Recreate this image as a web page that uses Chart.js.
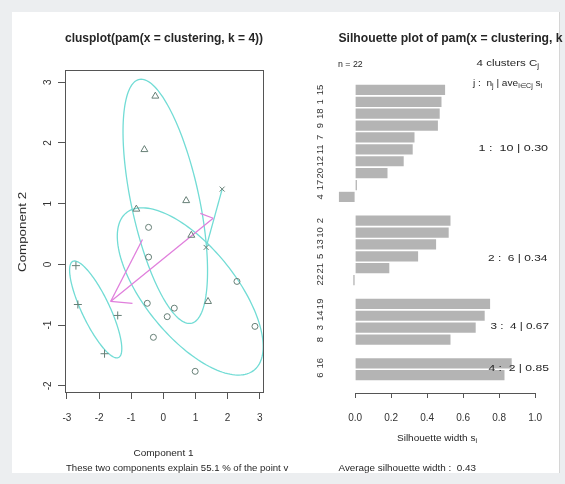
<!DOCTYPE html>
<html lang="en">
<head>
<meta charset="UTF-8">
<title>clusplot and silhouette of pam(x = clustering, k = 4)</title>
<script src="https://cdn.jsdelivr.net/npm/chart.js"></script>
<style>
  body {
    margin: 0;
    width: 565px;
    height: 484px;
    background: #eceef0;
    font-family: "Liberation Sans", Arial, sans-serif;
    position: relative;
    overflow: hidden;
  }
  #panel {
    position: absolute;
    left: 12px; top: 12px;
    width: 547px; height: 461px;
    background: #fff;
    border-right: 1px solid #d6d6d6;
  }
  .box { position: absolute; top: 0; height: 484px; }
  #leftBox { left: 0; width: 290px; }
  #rightBox { left: 290px; width: 275px; }
  .txt { position: absolute; white-space: nowrap; color: #262626; line-height: 1.1; }
  .txt sub { font-size: 70%; vertical-align: -2px; }
</style>
</head>
<body>
<div id="panel"></div>
<div class="box" id="leftBox"><canvas id="clusPlot"></canvas></div>
<div class="box" id="rightBox"><canvas id="silPlot"></canvas></div>

<script>
// ---- clusplot data (component 1 / component 2 scores per cluster) ----
const c1X = [-0.46, -0.46, -0.50, 2.29, 0.34, 0.12, 2.85, -0.31, 0.99];
const c1Y = [0.61, 0.12, -0.64, -0.28, -0.72, -0.86, -1.02, -1.20, -1.76];
const c2X = [-0.25, -0.59, -0.84, 0.71, 0.87, 1.39];
const c2Y = [2.77, 1.89, 0.91, 1.05, 0.48, -0.61];
const c3X = [-2.72, -2.66, -1.83, -1.42];
const c3Y = [-0.02, -0.66, -1.47, -0.84];
const c4X = [1.83, 1.33];
const c4Y = [1.24, 0.28];

// covering ellipses: centre x, centre y, then two conjugate half-axes (data units)
const clusterEllipses = [
  [0.836, -0.445, 2.01, -1.285, 1.053, 0.494],
  [0.06, 1.038, -0.75, 2.01, 1.08, 0],
  [-2.105, -0.741, 0.712, -0.791, 0.39, 0.10],
  [1.58, 0.76, 0.25, 0.48, 0, 0]
];
// distance segments between clusters [x1, y1, x2, y2]
const clusterLines = [
  [-1.64, -0.61, 1.55, 0.76],
  [-1.64, -0.61, -0.65, 0.41],
  [-1.64, -0.61, -0.96, -0.64],
  [1.15, 0.84, 1.55, 0.76]
];
const compXTicks = [-3, -2, -1, 0, 1, 2, 3];
const compYTicks = [-2, -1, 0, 1, 2, 3];

// ---- silhouette data ----
const sil1Ids = ['15', '1', '18', '9', '7', '11', '12', '20', '17', '4'];
const sil1Width = [0.50, 0.48, 0.47, 0.46, 0.33, 0.32, 0.27, 0.18, 0.01, -0.09];
const sil2Ids = ['2', '10', '13', '5', '21', '22'];
const sil2Width = [0.53, 0.52, 0.45, 0.35, 0.19, -0.01];
const sil3Ids = ['19', '14', '3', '8'];
const sil3Width = [0.75, 0.72, 0.67, 0.53];
const sil4Ids = ['16', '6'];
const sil4Width = [0.87, 0.83];
const silTicks = [0, 0.2, 0.4, 0.6, 0.8, 1.0];

const FONT = '"Liberation Sans", Arial, sans-serif';
const pointColor = '#667f76';
const ellipseColor = '#72dcd5';
const lineColor = '#e07fdc';

function toPts(xs, ys) { return xs.map((v, i) => ({ x: v, y: ys[i] })); }

function pointSet(xs, ys, style, r) {
  return {
    data: toPts(xs, ys), pointStyle: style, pointRadius: r,
    borderColor: pointColor, backgroundColor: 'transparent', pointBorderWidth: 1
  };
}

const clusDatasets = [
  pointSet(c1X, c1Y, 'circle', 3),
  pointSet(c2X, c2Y, 'triangle', 4),
  pointSet(c3X, c3Y, 'cross', 4),
  pointSet(c4X, c4Y, 'crossRot', 3.5)
];
clusterLines.forEach(s => {
  clusDatasets.push({
    data: [{ x: s[0], y: s[1] }, { x: s[2], y: s[3] }],
    showLine: true, borderColor: lineColor, borderWidth: 1.3, pointRadius: 0
  });
});

const ellipsePlugin = {
  id: 'ellipses',
  beforeDatasetsDraw(chart) {
    const { ctx, chartArea, scales: { x, y } } = chart;
    ctx.save();
    ctx.beginPath();
    ctx.rect(chartArea.left, chartArea.top, chartArea.width, chartArea.height);
    ctx.clip();
    ctx.strokeStyle = ellipseColor;
    ctx.lineWidth = 1.3;
    clusterEllipses.forEach(e => {
      ctx.beginPath();
      for (let i = 0; i <= 160; i++) {
        const t = i / 160 * Math.PI * 2;
        const px = x.getPixelForValue(e[0] + e[2] * Math.cos(t) + e[4] * Math.sin(t));
        const py = y.getPixelForValue(e[1] + e[3] * Math.cos(t) + e[5] * Math.sin(t));
        if (i === 0) ctx.moveTo(px, py); else ctx.lineTo(px, py);
      }
      ctx.stroke();
    });
    ctx.restore();
  },
  afterDraw(chart) {
    const { ctx, chartArea, scales: { y } } = chart;
    ctx.save();
    ctx.strokeStyle = '#555';
    ctx.lineWidth = 1;
    ctx.strokeRect(chartArea.left + 0.5, chartArea.top + 0.5, chartArea.width, chartArea.height);
    // rotated y tick labels, R style
    ctx.fillStyle = '#333';
    ctx.font = '10px ' + FONT;
    ctx.textAlign = 'center';
    ctx.textBaseline = 'middle';
    compYTicks.forEach(v => {
      ctx.save();
      ctx.translate(48, y.getPixelForValue(v));
      ctx.rotate(-Math.PI / 2);
      ctx.fillText(String(v), 0, 0);
      ctx.restore();
    });
    ctx.restore();
  }
};

new Chart(document.getElementById('clusPlot'), {
  type: 'scatter',
  data: { datasets: clusDatasets },
  options: {
    responsive: true, maintainAspectRatio: false, animation: false,
    layout: { padding: { top: 70, right: 27, left: 0, bottom: 0 } },
    plugins: { legend: { display: false }, tooltip: { enabled: false } },
    scales: {
      x: {
        type: 'linear', min: -3.06, max: 3.1,
        afterBuildTicks: s => { s.ticks = compXTicks.map(v => ({ value: v })); },
        afterFit: s => { s.height = 92; },
        grid: { drawOnChartArea: false, tickLength: 7, color: '#555' },
        border: { display: false },
        ticks: { padding: 13, color: '#333', font: { size: 10, family: FONT } }
      },
      y: {
        type: 'linear', min: -2.1, max: 3.2,
        afterBuildTicks: s => { s.ticks = compYTicks.map(v => ({ value: v })); },
        afterFit: s => { s.width = 65; },
        grid: { drawOnChartArea: false, tickLength: 7, color: '#555' },
        border: { display: false },
        ticks: { display: false }
      }
    }
  },
  plugins: [ellipsePlugin]
});

// ---- silhouette bars ----
const silLabels = [];
const silValues = [];
[[sil1Ids, sil1Width], [sil2Ids, sil2Width], [sil3Ids, sil3Width], [sil4Ids, sil4Width]].forEach((c, k) => {
  if (k > 0) { silLabels.push(''); silValues.push(null); }
  c[0].forEach((id, i) => { silLabels.push(id); silValues.push(c[1][i]); });
});
silLabels.push(''); silValues.push(null);

const silPlugin = {
  id: 'silAxis',
  afterDraw(chart) {
    const { ctx, chartArea, scales: { x, y } } = chart;
    ctx.save();
    ctx.strokeStyle = '#555';
    ctx.lineWidth = 1;
    ctx.beginPath();
    ctx.moveTo(x.getPixelForValue(0), chartArea.bottom + 0.5);
    ctx.lineTo(x.getPixelForValue(1), chartArea.bottom + 0.5);
    ctx.stroke();
    ctx.fillStyle = '#333';
    ctx.font = '9.5px ' + FONT;
    ctx.textAlign = 'center';
    ctx.textBaseline = 'middle';
    silLabels.forEach((lab, i) => {
      if (!lab) return;
      ctx.save();
      ctx.translate(30, y.getPixelForValue(i));
      ctx.rotate(-Math.PI / 2);
      ctx.fillText(lab, 0, 0);
      ctx.restore();
    });
    ctx.restore();
  }
};

new Chart(document.getElementById('silPlot'), {
  type: 'bar',
  data: {
    labels: silLabels,
    datasets: [{ data: silValues, backgroundColor: '#b4b4b4', barPercentage: 0.86, categoryPercentage: 1 }]
  },
  options: {
    indexAxis: 'y',
    responsive: true, maintainAspectRatio: false, animation: false,
    layout: { padding: { top: 84, right: 22, left: 0, bottom: 0 } },
    plugins: { legend: { display: false }, tooltip: { enabled: false } },
    scales: {
      x: {
        type: 'linear', min: -0.134, max: 1.044,
        afterBuildTicks: s => { s.ticks = silTicks.map(v => ({ value: v })); },
        afterFit: s => { s.height = 91; },
        grid: { drawOnChartArea: false, tickLength: 5, color: '#555' },
        border: { display: false },
        ticks: { padding: 14, color: '#333', font: { size: 10, family: FONT }, callback: v => Number(v).toFixed(1) }
      },
      y: {
        afterFit: s => { s.width = 41; },
        grid: { display: false },
        border: { display: false },
        ticks: { display: false }
      }
    }
  },
  plugins: [silPlugin]
});

// ---- titles and annotations (real text, squeezed to the reference widths) ----
function addText(html, cx, cy, width, font, rotate) {
  const el = document.createElement('div');
  el.className = 'txt';
  el.innerHTML = html;
  el.style.font = font;
  document.body.appendChild(el);
  const w = el.offsetWidth, h = el.offsetHeight;
  el.style.left = (cx - w / 2) + 'px';
  el.style.top = (cy - h / 2) + 'px';
  el.style.transform = (rotate ? 'rotate(-90deg) ' : '') + 'scaleX(' + (width / w).toFixed(3) + ')';
}
const bold = 'bold 12px ' + FONT;
const small = '9.5px ' + FONT;
addText('clusplot(pam(x = clustering, k = 4))', 164, 38, 198, bold);
addText('Silhouette plot of pam(x = clustering, k', 450, 38, 224, bold);
addText('Component 2', 22, 232, 80, '11px ' + FONT, true);
addText('Component 1', 163, 452, 60, small);
addText('These two components explain 55.1 % of the point v', 177, 467, 222, small);
addText('n = 22', 350, 63, 25, small);
addText('4 clusters C<sub>j</sub>', 508, 63, 63, small);
addText('j :&nbsp; n<sub>j</sub> | ave<sub>i∈Cj</sub> s<sub>i</sub>', 507, 83, 69, small);
addText('1 :&nbsp; 10 | 0.30', 513, 147, 70, small);
addText('2 :&nbsp; 6 | 0.34', 517, 257, 59, small);
addText('3 :&nbsp; 4 | 0.67', 519, 325, 58, small);
addText('4 :&nbsp; 2 | 0.85', 518, 367, 60, small);
addText('Silhouette width s<sub>i</sub>', 437, 438, 80, small);
addText('Average silhouette width :&nbsp; 0.43', 407, 467, 137, small);
</script>
</body>
</html>
